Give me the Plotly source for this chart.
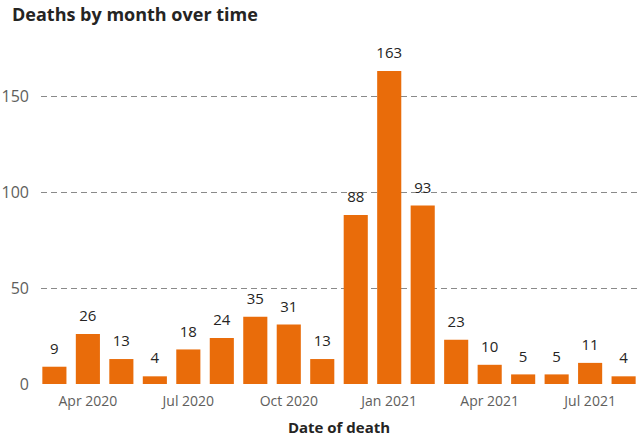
import plotly.graph_objects as go

months = ["Mar 2020", "Apr 2020", "May 2020", "Jun 2020", "Jul 2020", "Aug 2020",
          "Sep 2020", "Oct 2020", "Nov 2020", "Dec 2020", "Jan 2021", "Feb 2021",
          "Mar 2021", "Apr 2021", "May 2021", "Jun 2021", "Jul 2021", "Aug 2021"]
deaths = [9, 26, 13, 4, 18, 24, 35, 31, 13, 88, 163, 93, 23, 10, 5, 5, 11, 4]
x_ticks = ["Apr 2020", "Jul 2020", "Oct 2020", "Jan 2021", "Apr 2021", "Jul 2021"]
y_ticks = [0, 50, 100, 150]

FONT = "Segoe UI, Open Sans, sans-serif"

fig = go.Figure()
fig.add_trace(go.Bar(
    x=months, y=deaths,
    marker=dict(color="#E96C0A", line=dict(width=0)),
    hoverinfo="x+y",
))
fig.add_trace(go.Scatter(
    x=months, y=deaths, mode="markers+text",
    text=[str(v) for v in deaths], textposition="top center",
    marker=dict(size=13, color="rgba(0,0,0,0)", line=dict(width=0)),
    textfont=dict(family=FONT, size=15, color="#252423"),
    cliponaxis=False, hoverinfo="skip",
))

fig.update_layout(
    width=642, height=439,
    margin=dict(l=41, r=5, t=48, b=55, autoexpand=False),
    paper_bgcolor="white", plot_bgcolor="white",
    bargap=0.28,
    showlegend=False,
    title=dict(text="<b>Deaths by month over time</b>", x=12 / 642, xref="container",
               y=1 - 15 / 439, yref="container", yanchor="middle", xanchor="left",
               font=dict(family=FONT, size=18, color="#252423")),
    xaxis=dict(type="category", range=[-0.4, 17.4], automargin=False,
               tickmode="array", tickvals=x_ticks, ticktext=x_ticks,
               showgrid=False, showline=False, ticks="",
               ticklabelstandoff=7,
               tickfont=dict(family=FONT, size=14, color="#605E5C"),
               title=dict(text="<b>Date of death</b>", standoff=13,
                          font=dict(family=FONT, size=15, color="#252423"))),
    yaxis=dict(range=[0, 175], tickmode="array", tickvals=y_ticks, automargin=False,
               showgrid=True, gridcolor="#8A8A8A", griddash="6px,4px", gridwidth=1,
               zeroline=False, showline=False, ticks="",
               ticklabelstandoff=11,
               tickfont=dict(family=FONT, size=16, color="#605E5C")),
)

fig.write_html("out.html", config={"displayModeBar": False},
               post_script="document.body.style.margin='0px';")
